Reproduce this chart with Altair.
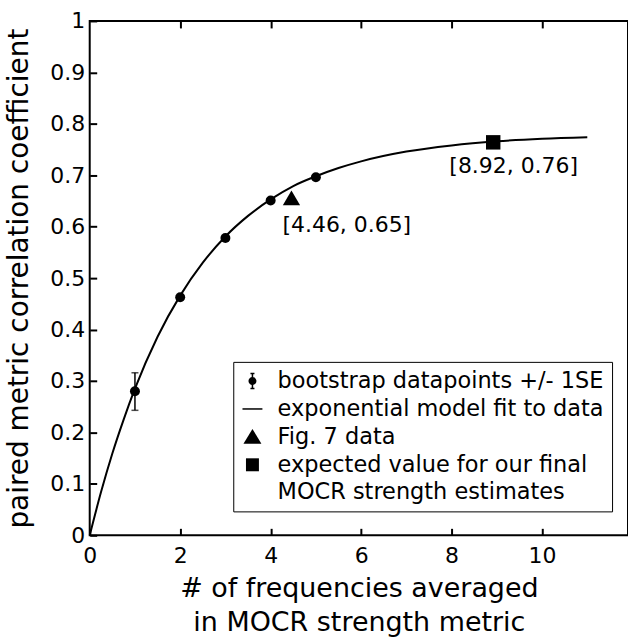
import altair as alt
import pandas as pd

# ---- data ----
boot_x = [1, 2, 3, 4, 5]
boot_y = [0.280, 0.463, 0.578, 0.651, 0.696]
err_x = [1]
err_lo = [0.243]
err_hi = [0.316]

fit_x = [0, 0.25, 0.5, 0.75, 1, 1.5, 2, 2.5, 3, 3.5, 4, 4.5, 5, 5.5, 6, 7, 8, 9, 10, 11]
fit_y = [0, 0.084, 0.159, 0.225, 0.285, 0.386, 0.466, 0.530, 0.581, 0.621, 0.653,
         0.679, 0.698, 0.714, 0.727, 0.746, 0.758, 0.766, 0.771, 0.774]

tri_x = [4.46]
tri_y = [0.656]
tri_label = ["[4.46, 0.65]"]
sq_x = [8.92]
sq_y = [0.764]
sq_label = ["[8.92, 0.76]"]

x_tick_vals = [0, 2, 4, 6, 8, 10]
x_top_ticks = [2, 4, 6, 8, 10]
y_tick_vals = [0, 0.1, 0.2, 0.3, 0.4, 0.5, 0.6, 0.7, 0.8, 0.9, 1]

legend_labels = [
    "bootstrap datapoints +/- 1SE",
    "exponential model fit to data",
    "Fig. 7 data",
    "expected value for our final|MOCR strength estimates",
]
# filled parts of the legend symbols
legend_fill_paths = [
    "M-0.4,0A0.4,0.4,0,1,0,0.4,0A0.4,0.4,0,1,0,-0.4,0Z",
    "M0,0",
    "M0,-0.8L0.9,0.7L-0.9,0.7Z",
    "M-0.65,-0.65H0.65V0.65H-0.65Z",
]
# stroked parts of the legend symbols
legend_stroke_paths = [
    "M0,-0.75V0.75M-0.2,-0.75H0.2M-0.2,0.75H0.2",
    "M-1,0H1",
    "M0,0",
    "M0,0",
]

W, H = 540, 516
FONT = "DejaVu Sans"

xs = alt.Scale(domain=[0, 11.9], nice=False, zero=False)
ys = alt.Scale(domain=[0, 1], nice=False)

boot_df = pd.DataFrame({"x": boot_x, "y": boot_y})
err_df = pd.DataFrame({"x": err_x, "lo": err_lo, "hi": err_hi})
fit_df = pd.DataFrame({"x": fit_x, "y": fit_y})
tri_df = pd.DataFrame({"x": tri_x, "y": tri_y, "label": tri_label})
sq_df = pd.DataFrame({"x": sq_x, "y": sq_y, "label": sq_label})
leg_df = pd.DataFrame({"series": legend_labels})

# axes pulled inside the frame so that their ticks point inward (MATLAB style)
x_axis = alt.Axis(values=x_tick_vals, grid=False, ticks=True, tickSize=7, tickWidth=2,
                  tickColor="black", domain=False, offset=-7, zindex=1,
                  labelFontSize=22, labelPadding=10, labelColor="black", labelFlush=False,
                  title=["# of frequencies averaged", "in MOCR strength metric"],
                  titleFontSize=27, titleFontWeight="normal", titleColor="black",
                  titleLineHeight=35, titlePadding=9)
x_axis_top = alt.Axis(orient="top", values=x_top_ticks, grid=False, ticks=True, tickSize=7,
                      tickWidth=2, tickColor="black", domain=False, offset=-7, zindex=1,
                      labels=False, title="")
y_axis = alt.Axis(values=y_tick_vals, grid=False, ticks=True, tickSize=7, tickWidth=2,
                  tickColor="black", domain=False, offset=-7, zindex=1,
                  labelFontSize=22, labelPadding=5, labelColor="black", format="~g",
                  labelFlush=False,
                  title="paired metric correlation coefficient",
                  titleFontSize=28, titleFontWeight="normal", titleColor="black",
                  titlePadding=16)


def X(field, axis=None):
    if axis is None:
        return alt.X(field, scale=xs, axis=None)
    return alt.X(field, scale=xs, axis=axis)


fit = alt.Chart(fit_df).mark_line(color="black", strokeWidth=2, interpolate="monotone").encode(
    x=X("x:Q", x_axis),
    y=alt.Y("y:Q", scale=ys, axis=y_axis),
)

err_rule = alt.Chart(err_df).mark_rule(color="black", strokeWidth=1.5).encode(
    x=X("x:Q"), y=alt.Y("lo:Q", scale=ys), y2="hi:Q")
cap_lo = alt.Chart(err_df).mark_tick(color="black", orient="horizontal", size=7, thickness=1.5).encode(
    x=X("x:Q"), y=alt.Y("lo:Q", scale=ys))
cap_hi = alt.Chart(err_df).mark_tick(color="black", orient="horizontal", size=7, thickness=1.5).encode(
    x=X("x:Q"), y=alt.Y("hi:Q", scale=ys))

dots = alt.Chart(boot_df).mark_circle(color="black", size=100, opacity=1).encode(
    x=X("x:Q", x_axis_top), y=alt.Y("y:Q", scale=ys))

tri = alt.Chart(tri_df).mark_point(shape="triangle-up", filled=True, color="black", size=300, opacity=1).encode(
    x=X("x:Q"), y=alt.Y("y:Q", scale=ys))
tri_txt = alt.Chart(tri_df).mark_text(align="left", baseline="middle", dx=-9, dy=27,
                                      fontSize=22, font=FONT, color="black").encode(
    x=X("x:Q"), y=alt.Y("y:Q", scale=ys), text="label:N")

sq = alt.Chart(sq_df).mark_square(color="black", size=210, opacity=1).encode(
    x=X("x:Q"), y=alt.Y("y:Q", scale=ys))
sq_txt = alt.Chart(sq_df).mark_text(align="left", baseline="middle", dx=-44, dy=24,
                                    fontSize=22, font=FONT, color="black").encode(
    x=X("x:Q"), y=alt.Y("y:Q", scale=ys), text="label:N")

common_legend = dict(orient="none", legendX=144, legendY=342, direction="vertical",
                     padding=8, rowPadding=5, labelFontSize=22.5, labelFont=FONT,
                     labelOffset=14, labelLimit=600, labelExpr="split(datum.label, '|')",
                     symbolSize=400, symbolOpacity=1)

legend_fill = alt.Chart(leg_df).mark_point(filled=True, color="black", opacity=0).encode(
    x=alt.value(-100), y=alt.value(-100),
    shape=alt.Shape("series:N",
                    scale=alt.Scale(domain=legend_labels, range=legend_fill_paths),
                    sort=legend_labels,
                    legend=alt.Legend(title=None, strokeColor="black", labelColor="black",
                                      **common_legend)),
)
legend_stroke = alt.Chart(leg_df).mark_point(filled=False, color="black", strokeWidth=1.5,
                                             opacity=0).encode(
    x=alt.value(-100), y=alt.value(-100),
    shape=alt.Shape("series:N",
                    scale=alt.Scale(domain=legend_labels, range=legend_stroke_paths),
                    sort=legend_labels,
                    legend=alt.Legend(title=None, labelOpacity=0, symbolStrokeWidth=1.5,
                                      **common_legend)),
)

chart = alt.layer(
    legend_fill, legend_stroke, fit, err_rule, cap_lo, cap_hi, dots, tri, tri_txt, sq, sq_txt,
).resolve_axis(
    x="independent",
).resolve_scale(
    shape="independent",
).resolve_legend(
    shape="independent",
).properties(
    width=W, height=H,
    autosize=alt.AutoSizeParams(type="none"),
    padding={"left": 90, "top": 20, "right": 0, "bottom": 104},
).configure(
    font=FONT,
    style={"guide-label": {"lineHeight": 27}},
).configure_view(
    stroke="black", strokeWidth=2,
)

chart.save("out.html", embed_options={"renderer": "svg", "actions": False})
